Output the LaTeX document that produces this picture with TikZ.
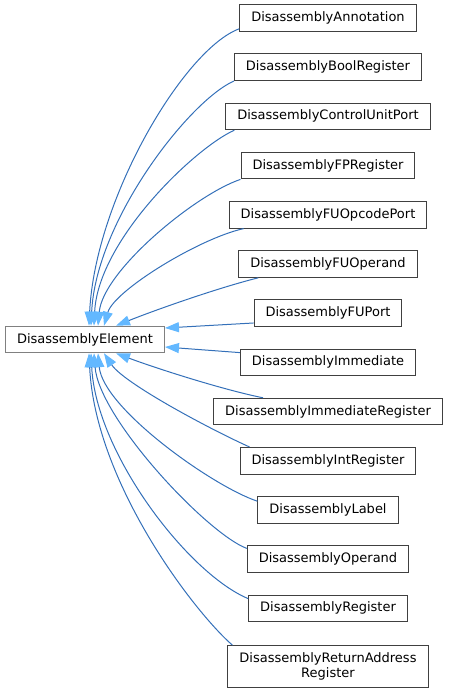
\documentclass[tikz,border=0pt]{standalone}
\usepackage{fontspec}
\setmainfont{DejaVu Sans}
\usepackage{xcolor}
\usetikzlibrary{arrows.meta}
\definecolor{edgeblue}{RGB}{52,112,185}
\definecolor{tipblue}{RGB}{99,184,255}
\tikzset{
  cls/.style={draw=black!75,fill=white,line width=1pt,minimum height=26pt,inner xsep=11.5pt,inner ysep=7pt,align=center,font=\fontsize{13}{15}\selectfont},
  basecls/.style={cls,draw=black!50},
  arr/.style={draw=edgeblue,line width=1pt,-{Triangle[length=14pt,width=10pt,color=tipblue]}},
}
\begin{document}
\begin{tikzpicture}[x=1pt,y=1pt]
\useasboundingbox (0,0) rectangle (449,-693);
\node[basecls] (el) at (85,-339.5) {DisassemblyElement};
\node[cls] (ann) at (328,-18) {DisassemblyAnnotation};
\node[cls] (bool) at (328,-67.2) {DisassemblyBoolRegister};
\node[cls] (cup) at (328,-116.4) {DisassemblyControlUnitPort};
\node[cls] (fp) at (328,-165.6) {DisassemblyFPRegister};
\node[cls] (fuop) at (328,-214.8) {DisassemblyFUOpcodePort};
\node[cls] (fuopd) at (328,-264) {DisassemblyFUOperand};
\node[cls] (fup) at (328,-313.2) {DisassemblyFUPort};
\node[cls] (imm) at (328,-362.4) {DisassemblyImmediate};
\node[cls] (immr) at (328,-411.6) {DisassemblyImmediateRegister};
\node[cls] (intr) at (328,-460.8) {DisassemblyIntRegister};
\node[cls] (lab) at (328,-510) {DisassemblyLabel};
\node[cls] (opd) at (328,-559.2) {DisassemblyOperand};
\node[cls] (reg) at (328,-608.4) {DisassemblyRegister};
\node[cls] (ret) at (328,-666.5) {DisassemblyReturnAddress\\Register};
% inheritance edges, upper half
\draw[arr] ([yshift=3]ann.south west) .. controls +(-55,-20) and +(6,127) .. ([xshift=4]el.north);
\draw[arr] (bool.south west) .. controls +(-45,-20) and +(5,105) .. ([xshift=6]el.north);
\draw[arr] ([xshift=9]cup.south west) .. controls +(-40,-18) and +(4,85) .. ([xshift=9]el.north);
\draw[arr] (fp.south west) .. controls +(-45,-15) and +(5,55) .. ([xshift=13]el.north);
\draw[arr] ([xshift=15]fuop.south west) .. controls +(-45,-10) and +(10,35) .. ([xshift=19]el.north);
\draw[arr] ([xshift=20]fuopd.south west) .. controls +(-40,-10) and +(40,16) .. ([xshift=31]el.north);
\draw[arr] ([yshift=4]fup.south west) -- ([yshift=11.5]el.east);
% lower half
\draw[arr] ([yshift=-4]imm.north west) -- ([yshift=-7.5]el.east);
\draw[arr] ([xshift=50]immr.north west) .. controls +(-40,8) and +(40,-15) .. ([xshift=31]el.south);
\draw[arr] ([xshift=10]intr.north west) .. controls +(-40,18) and +(20,-30) .. ([xshift=19]el.south);
\draw[arr] ([yshift=-5]lab.north west) .. controls +(-45,15) and +(5,-55) .. ([xshift=13]el.south);
\draw[arr] ([yshift=-3]opd.north west) .. controls +(-40,15) and +(5,-65) .. ([xshift=9]el.south);
\draw[arr] ([yshift=-4]reg.north west) .. controls +(-60,25) and +(5,-100) .. ([xshift=6]el.south);
\draw[arr] ([xshift=5]ret.north west) .. controls +(-40,35) and +(6,-128) .. ([xshift=4]el.south);
\end{tikzpicture}
\end{document}
